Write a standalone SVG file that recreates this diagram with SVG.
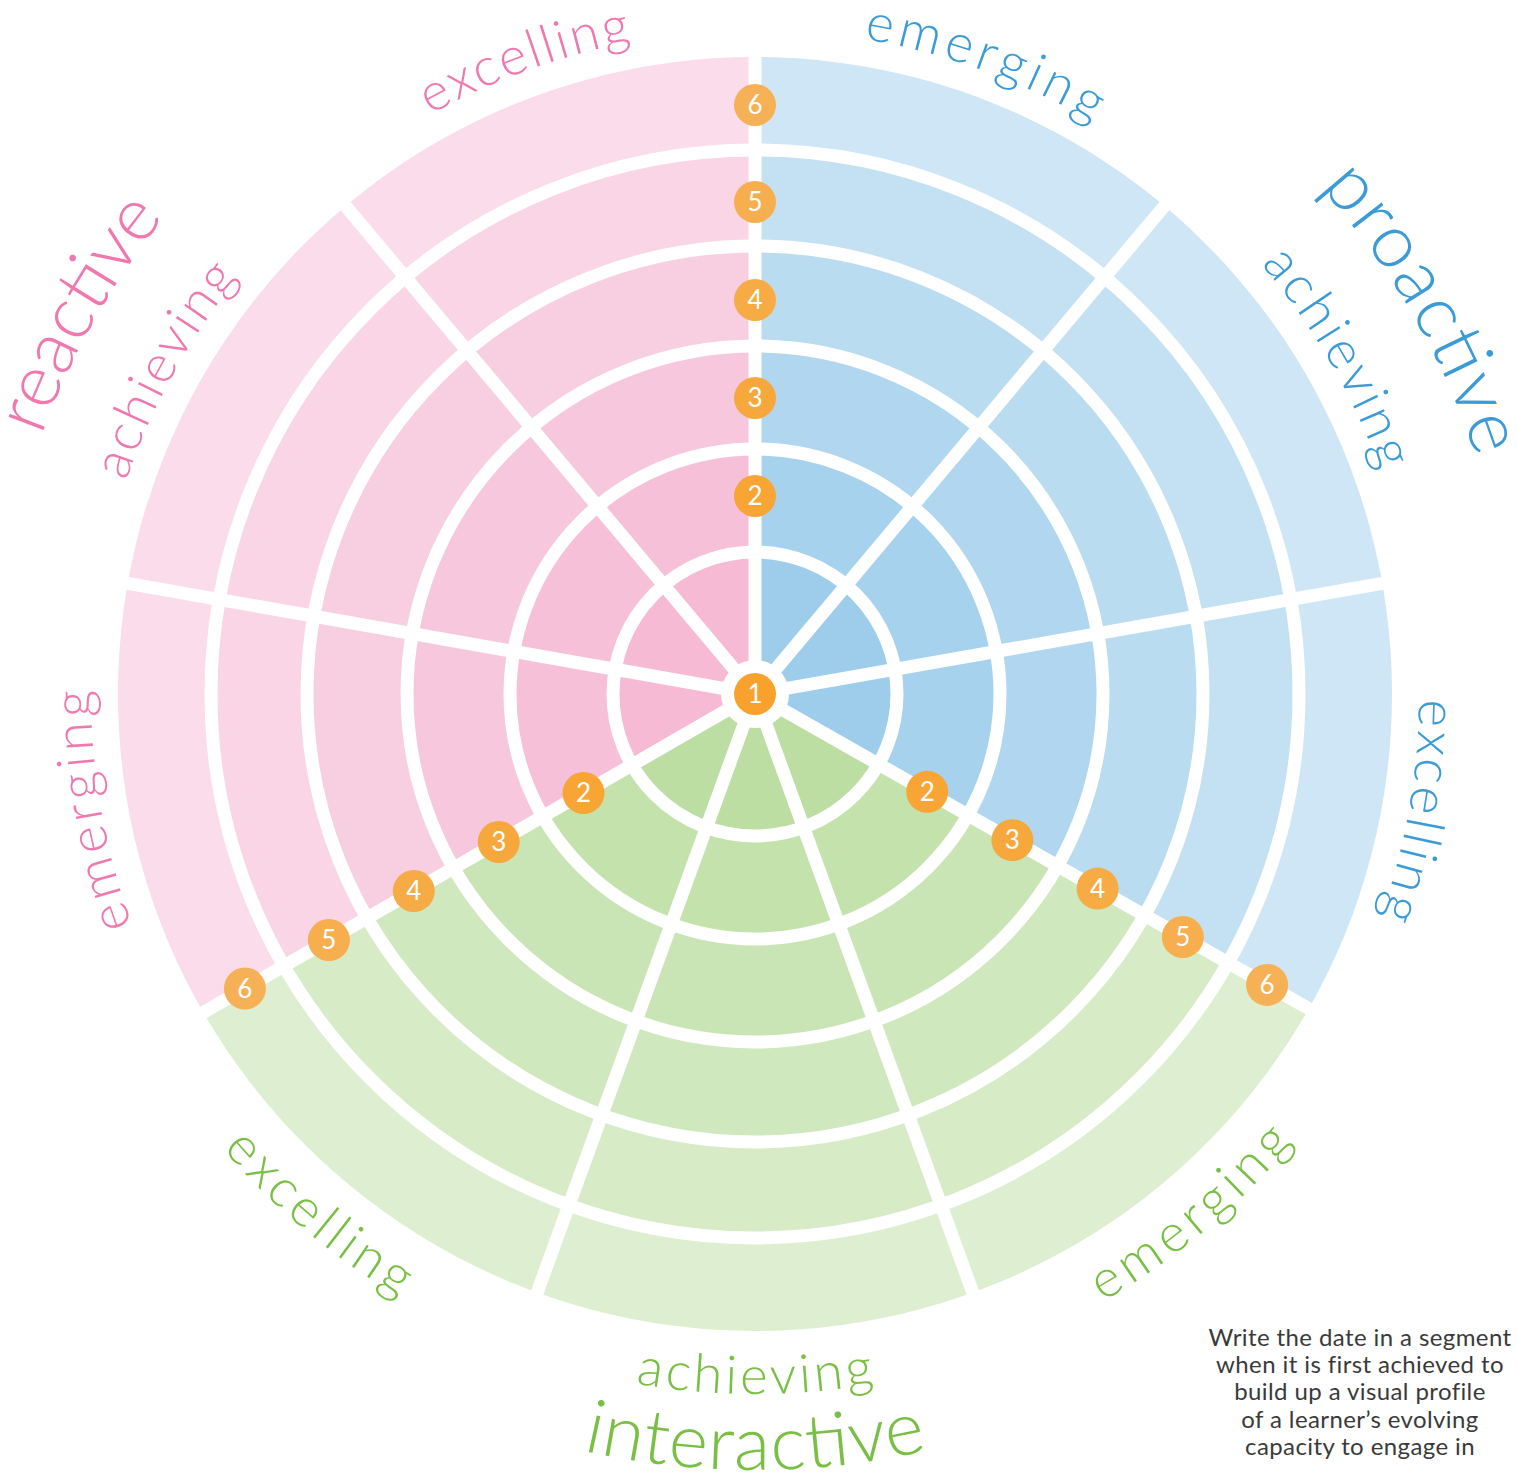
<svg xmlns="http://www.w3.org/2000/svg" width="1518" height="1479" viewBox="0 0 1518 1479">
<style>
.lbl{font-family:Lato,"Liberation Sans",sans-serif;font-weight:300}
.sm{font-size:53px}
.big{font-size:75px}
.blue{fill:#3B9BD7}
.pink{fill:#EF79AF}
.green{fill:#79BF44}
.div{stroke:#FFFFFF;stroke-width:13;fill:none}
.num{font-family:Lato,"Liberation Sans",sans-serif;font-size:26px;fill:#FFFFFF;text-anchor:middle}
.note{font-family:Lato,"Liberation Sans",sans-serif;font-size:24px;letter-spacing:0.4px;fill:#3A3A3A;text-anchor:middle}
</style>
<defs>
<path id="tp-bem" d="M328.2,185.4 A664,664 0 0 1 1408.9,578.7"/>
<path id="tp-bach" d="M755,30 A664,664 0 0 1 1330,1026"/>
<path id="tp-bexc" d="M1181.8,185.4 A664,664 0 0 1 982.1,1318"/>
<path id="tp-pach" d="M180,1026 A664,664 0 0 1 755,30"/>
<path id="tp-pem" d="M527.9,1318 A664,664 0 0 1 328.2,185.4"/>
<path id="tp-pexc" d="M101.1,578.7 A664,664 0 0 1 1181.8,185.4"/>
<path id="tp-pro" d="M755,-65 A759,759 0 0 1 1412.3,1073.5"/>
<path id="tp-rea" d="M97.7,1073.5 A759,759 0 0 1 755,-65"/>
<path id="tp-gem" d="M515.6,1351.8 A700,700 0 0 0 1444.4,572.4"/>
<path id="tp-gach" d="M148.8,1044 A700,700 0 0 0 1361.2,1044"/>
<path id="tp-gexc" d="M65.6,572.4 A700,700 0 0 0 994.4,1351.8"/>
<path id="tp-int" d="M83,1082 A776,776 0 0 0 1427,1082"/>
</defs>

<g id="proactive">
<path d="M755,694 L755,57 A637,637 0 0 1 1308.87,1008.64 Z" fill="#CEE6F5"/>
<path d="M755,694 L755,150 A544,544 0 0 1 1228,962.7 Z" fill="#C4E1F3"/>
<path d="M755,694 L755,246 A448,448 0 0 1 1144.5,915.3 Z" fill="#BADCF1"/>
<path d="M755,694 L755,346 A348,348 0 0 1 1057.6,865.9 Z" fill="#B0D7EF"/>
<path d="M755,694 L755,449 A245,245 0 0 1 968,815 Z" fill="#A6D2ED"/>
<path d="M755,694 L755,552 A142,142 0 0 1 878.5,764.1 Z" fill="#9DCDEB"/>
</g>
<g id="interactive">
<path d="M755,694 L1308.87,1008.64 A637,637 0 0 1 203.34,1012.5 Z" fill="#DEEFD1"/>
<path d="M755,694 L1228,962.7 A544,544 0 0 1 283.88,966 Z" fill="#D7EBC7"/>
<path d="M755,694 L1144.5,915.3 A448,448 0 0 1 367.02,918 Z" fill="#D0E8BE"/>
<path d="M755,694 L1057.6,865.9 A348,348 0 0 1 453.62,868 Z" fill="#CAE5B5"/>
<path d="M755,694 L968,815 A245,245 0 0 1 542.82,816.5 Z" fill="#C3E2AC"/>
<path d="M755,694 L878.5,764.1 A142,142 0 0 1 632.02,765 Z" fill="#BCDEA2"/>
</g>
<g id="reactive">
<path d="M755,694 L203.34,1012.5 A637,637 0 0 1 755,57 Z" fill="#FADCEA"/>
<path d="M755,694 L283.88,966 A544,544 0 0 1 755,150 Z" fill="#F9D5E6"/>
<path d="M755,694 L367.02,918 A448,448 0 0 1 755,246 Z" fill="#F8CEE1"/>
<path d="M755,694 L453.62,868 A348,348 0 0 1 755,346 Z" fill="#F7C7DD"/>
<path d="M755,694 L542.82,816.5 A245,245 0 0 1 755,449 Z" fill="#F6C0D9"/>
<path d="M755,694 L632.02,765 A142,142 0 0 1 755,552 Z" fill="#F6BAD5"/>
</g>

<g id="connectors" class="div">
<circle cx="755" cy="694" r="142"/>
<circle cx="755" cy="694" r="245"/>
<circle cx="755" cy="694" r="348"/>
<circle cx="755" cy="694" r="448"/>
<circle cx="755" cy="694" r="544"/>
<path d="M755,694 L755,34"/>
<path d="M755,694 L1179.2,188.4"/>
<path d="M755,694 L1405,579.4"/>
<path d="M755,694 L1320.2,1015.1"/>
<path d="M755,694 L980.7,1314.2"/>
<path d="M755,694 L529.3,1314.2"/>
<path d="M755,694 L183.4,1024"/>
<path d="M755,694 L105,579.4"/>
<path d="M755,694 L330.8,188.4"/>
</g>

<g id="labels" class="lbl">
<text class="sm blue"><textPath href="#tp-bem" startOffset="50%" text-anchor="middle" textLength="245" lengthAdjust="spacing">emerging</textPath></text>
<text class="sm blue"><textPath href="#tp-bach" startOffset="50%" text-anchor="middle" textLength="240" lengthAdjust="spacing">achieving</textPath></text>
<text class="sm blue"><textPath href="#tp-bexc" startOffset="50%" text-anchor="middle" textLength="222" lengthAdjust="spacing">excelling</textPath></text>
<text class="big blue"><textPath href="#tp-pro" startOffset="50%" text-anchor="middle" textLength="315" lengthAdjust="spacing">proactive</textPath></text>
<text class="sm pink"><textPath href="#tp-pem" startOffset="50%" text-anchor="middle" textLength="240" lengthAdjust="spacing">emerging</textPath></text>
<text class="sm pink"><textPath href="#tp-pach" startOffset="49%" text-anchor="middle" textLength="234" lengthAdjust="spacing">achieving</textPath></text>
<text class="sm pink"><textPath href="#tp-pexc" startOffset="50%" text-anchor="middle" textLength="215" lengthAdjust="spacing">excelling</textPath></text>
<text class="big pink"><textPath href="#tp-rea" startOffset="49.5%" text-anchor="middle" textLength="252" lengthAdjust="spacing">reactive</textPath></text>
<text class="sm green"><textPath href="#tp-gem" startOffset="50%" text-anchor="middle" textLength="250" lengthAdjust="spacing">emerging</textPath></text>
<text class="sm green"><textPath href="#tp-gach" startOffset="50%" text-anchor="middle" textLength="240" lengthAdjust="spacing">achieving</textPath></text>
<text class="sm green"><textPath href="#tp-gexc" startOffset="50%" text-anchor="middle" textLength="232" lengthAdjust="spacing">excelling</textPath></text>
<text class="big green"><textPath href="#tp-int" startOffset="50%" text-anchor="middle" textLength="348" lengthAdjust="spacing">interactive</textPath></text>
</g>

<g id="badge-1">
<circle cx="755" cy="694" r="34" fill="#FFFFFF"/>
<circle cx="755" cy="694" r="21" fill="#F8A12C"/>
<text class="num" x="755" y="703">1</text>
</g>
<g id="badges-top">
<circle cx="755" cy="496" r="21" fill="#F8A535"/><text class="num" x="755" y="505">2</text>
<circle cx="755" cy="398" r="21" fill="#F7A83D"/><text class="num" x="755" y="407">3</text>
<circle cx="755" cy="300" r="21" fill="#F7AB45"/><text class="num" x="755" y="309">4</text>
<circle cx="755" cy="202" r="21" fill="#F6AE4E"/><text class="num" x="755" y="211">5</text>
<circle cx="755" cy="105" r="21" fill="#F6B156"/><text class="num" x="755" y="114">6</text>
</g>
<g id="badges-right">
<circle cx="927.2" cy="791.8" r="21" fill="#F8A535"/><text class="num" x="927.2" y="800.8">2</text>
<circle cx="1012.4" cy="840.2" r="21" fill="#F7A83D"/><text class="num" x="1012.4" y="849.2">3</text>
<circle cx="1097.6" cy="888.6" r="21" fill="#F7AB45"/><text class="num" x="1097.6" y="897.6">4</text>
<circle cx="1182.8" cy="937" r="21" fill="#F6AE4E"/><text class="num" x="1182.8" y="946">5</text>
<circle cx="1267.1" cy="984.9" r="21" fill="#F6B156"/><text class="num" x="1267.1" y="993.9">6</text>
</g>
<g id="badges-left">
<circle cx="583.5" cy="793" r="21" fill="#F8A535"/><text class="num" x="583.5" y="802">2</text>
<circle cx="498.7" cy="842" r="21" fill="#F7A83D"/><text class="num" x="498.7" y="851">3</text>
<circle cx="413.8" cy="891" r="21" fill="#F7AB45"/><text class="num" x="413.8" y="900">4</text>
<circle cx="328.9" cy="940" r="21" fill="#F6AE4E"/><text class="num" x="328.9" y="949">5</text>
<circle cx="244.9" cy="988.5" r="21" fill="#F6B156"/><text class="num" x="244.9" y="997.5">6</text>
</g>

<g id="note" class="note">
<text x="1360" y="1346">Write the date in a segment</text>
<text x="1360" y="1373">when it is first achieved to</text>
<text x="1360" y="1400">build up a visual profile</text>
<text x="1360" y="1428">of a learner’s evolving</text>
<text x="1360" y="1455">capacity to engage in</text>
</g>
</svg>
